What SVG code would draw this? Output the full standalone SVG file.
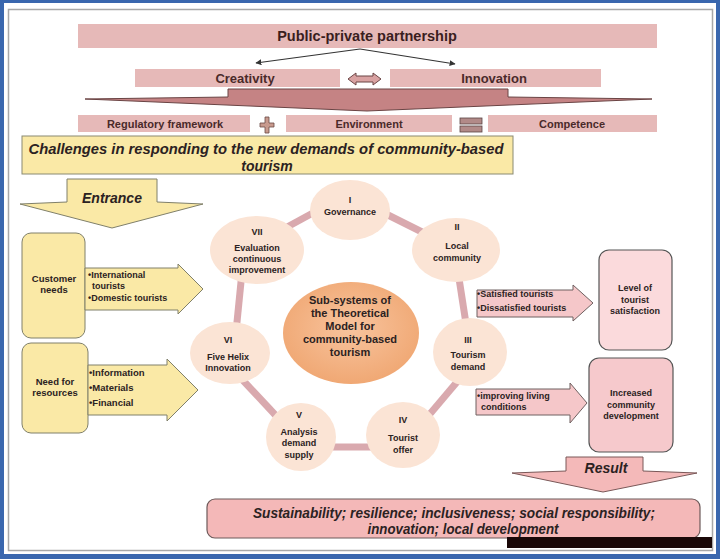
<svg xmlns="http://www.w3.org/2000/svg" width="720" height="559" viewBox="0 0 720 559">
<defs>
<style>
text{font-family:"Liberation Sans",Arial,sans-serif;font-weight:bold;fill:#2b2222;}
.t{text-anchor:middle;}
.pk{fill:#e6b9b8;}
.top{fill:#3a1e1e;}
.brn{fill:#4a2a2a;}
.s9{font-size:9px;}
.bi{font-style:italic;}
.sat{fill:#fbe4d5;}
.bar{stroke:#d9a9ae;stroke-width:7;stroke-linecap:butt;fill:none;}
.yl{fill:#fae9a6;stroke:#80806a;stroke-width:1;}
.pa{fill:#f5c7c9;stroke:#6e6060;stroke-width:1;}
</style>
<radialGradient id="cg" cx="50%" cy="45%" r="55%">
<stop offset="0" stop-color="#f8c49e"/>
<stop offset="1" stop-color="#f0a874"/>
</radialGradient>
<marker id="ah" viewBox="0 0 10 10" refX="9" refY="5" markerWidth="5" markerHeight="5" orient="auto">
<path d="M0,0 L10,5 L0,10 z" fill="#333"/>
</marker>
</defs>

<g id="frame">
<rect x="0" y="0" width="720" height="559" fill="#3a67ae"/>
<rect x="4" y="3" width="712" height="551" fill="#ffffff"/>
<rect x="8.5" y="9.5" width="704" height="541" fill="none" stroke="#a8a8a8" stroke-width="1.5"/>
</g>

<g id="connectors">
<line x1="360" y1="49" x2="256" y2="63" stroke="#333" stroke-width="1.2" marker-end="url(#ah)"/>
<line x1="360" y1="49" x2="455" y2="64" stroke="#333" stroke-width="1.2" marker-end="url(#ah)"/>
<line class="bar" x1="278" y1="232" x2="322" y2="208"/>
<line class="bar" x1="380" y1="211" x2="428" y2="235"/>
<line class="bar" x1="458" y1="272" x2="467" y2="330"/>
<line class="bar" x1="462" y1="376" x2="424" y2="421"/>
<line class="bar" x1="326" y1="447" x2="378" y2="447"/>
<line class="bar" x1="238" y1="375" x2="280" y2="420"/>
<line class="bar" x1="242" y1="272" x2="236" y2="332"/>
</g>

<g id="ppp">
<rect class="pk" x="78" y="24" width="579" height="24"/>
<text class="t top" x="367" y="41" font-size="14.5">Public-private partnership</text>
</g>
<g id="creativity">
<rect class="pk" x="135" y="69" width="205" height="18"/>
<text class="t brn" x="245" y="83" font-size="13">Creativity</text>
</g>
<g id="dblarrow">
<path d="M348,79 L356,73 L356,76 L373,76 L373,73 L381,79 L373,85 L373,82 L356,82 L356,85 Z" fill="#d9a2a2" stroke="#6b4545" stroke-width="1"/>
</g>
<g id="innovation">
<rect class="pk" x="390" y="69" width="211" height="18"/>
<text class="t brn" x="494" y="83" font-size="13">Innovation</text>
</g>
<g id="bigarrow">
<path d="M228,89 L508,89 L508,97 L652,99 L367,111 L85,99 L228,97 Z" fill="#c58384" stroke="#6a4444" stroke-width="1"/>
</g>
<g id="regulatory">
<rect class="pk" x="78" y="115" width="172" height="17"/>
<text class="t brn" x="165" y="128" font-size="11">Regulatory framework</text>
</g>
<g id="plus">
<path d="M265,117 L269,117 L269,123 L274,123 L274,127 L269,127 L269,133 L265,133 L265,127 L260,127 L260,123 L265,123 Z" fill="#c89a8e" stroke="#6a4a44" stroke-width="0.8"/>
</g>
<g id="environment">
<rect class="pk" x="286" y="115" width="166" height="17"/>
<text class="t brn" x="369" y="128" font-size="11">Environment</text>
</g>
<g id="equals">
<rect x="460" y="118" width="22" height="6" fill="#b28a88" stroke="#5a4444" stroke-width="0.8"/>
<rect x="460" y="126" width="22" height="6" fill="#b28a88" stroke="#5a4444" stroke-width="0.8"/>
</g>
<g id="competence">
<rect class="pk" x="488" y="115" width="169" height="17"/>
<text class="t brn" x="572" y="128" font-size="11">Competence</text>
</g>

<g id="challenges">
<rect x="22" y="136" width="491" height="38" fill="#fae9a6" stroke="#8a8a72" stroke-width="1"/>
<text class="t bi" x="266" y="154" font-size="14" textLength="475" lengthAdjust="spacingAndGlyphs">Challenges in responding to the new demands of  community-based</text>
<text class="t bi" x="267" y="171" font-size="14">tourism</text>
</g>

<g id="entrance">
<path d="M67,179 L157,179 L157,202 L203,204 L112,228 L20,204 L67,202 Z" class="yl"/>
<text class="t bi" x="112" y="203" font-size="14">Entrance</text>
</g>

<g id="customer">
<rect x="22" y="233" width="63" height="105" rx="9" class="yl"/>
<text class="t" x="54" y="282" font-size="9.5">Customer</text>
<text class="t" x="54" y="293" font-size="9.5">needs</text>
</g>
<g id="arrow-tourists">
<path d="M85,268 L178,268 L178,264 L203,289 L178,314 L178,310 L85,310 Z" class="yl"/>
<text class="s9" x="88" y="278">•International</text>
<text class="s9" x="92" y="289">tourists</text>
<text class="s9" x="88" y="301">•Domestic tourists</text>
</g>
<g id="resources">
<rect x="22" y="343" width="66" height="90" rx="9" class="yl"/>
<text class="t" x="55" y="385" font-size="9.5">Need for</text>
<text class="t" x="55" y="396" font-size="9.5">resources</text>
</g>
<g id="arrow-resources">
<path d="M88,365 L167,365 L167,359 L198,390 L167,421 L167,415 L88,415 Z" class="yl"/>
<text x="89" y="376" font-size="9.5">•Information</text>
<text x="89" y="391" font-size="9.5">•Materials</text>
<text x="89" y="406" font-size="9.5">•Financial</text>
</g>

<g id="center">
<ellipse cx="351" cy="333" rx="68" ry="51" fill="url(#cg)"/>
<text class="t" x="350" y="304" font-size="11">Sub-systems of</text>
<text class="t" x="350" y="317" font-size="11">the Theoretical</text>
<text class="t" x="350" y="330" font-size="11">Model for</text>
<text class="t" x="350" y="343" font-size="11">community-based</text>
<text class="t" x="350" y="356" font-size="11">tourism</text>
</g>
<g id="sat1">
<ellipse class="sat" cx="350" cy="210" rx="40" ry="30"/>
<text class="t s9" x="350" y="203">I</text>
<text class="t s9" x="350" y="215">Governance</text>
</g>
<g id="sat2">
<ellipse class="sat" cx="456" cy="250" rx="44" ry="32"/>
<text class="t s9" x="457" y="230">II</text>
<text class="t s9" x="457" y="249">Local</text>
<text class="t s9" x="457" y="261">community</text>
</g>
<g id="sat3">
<ellipse class="sat" cx="470" cy="352" rx="37" ry="34"/>
<text class="t s9" x="468" y="343">III</text>
<text class="t s9" x="468" y="358">Tourism</text>
<text class="t s9" x="468" y="370">demand</text>
</g>
<g id="sat4">
<ellipse class="sat" cx="403" cy="435" rx="37" ry="33"/>
<text class="t s9" x="403" y="423">IV</text>
<text class="t s9" x="403" y="441">Tourist</text>
<text class="t s9" x="403" y="453">offer</text>
</g>
<g id="sat5">
<ellipse class="sat" cx="301" cy="437" rx="35" ry="34"/>
<text class="t s9" x="299" y="418">V</text>
<text class="t s9" x="299" y="435">Analysis</text>
<text class="t s9" x="299" y="446">demand</text>
<text class="t s9" x="299" y="458">supply</text>
</g>
<g id="sat6">
<ellipse class="sat" cx="230" cy="353" rx="40" ry="31"/>
<text class="t s9" x="228" y="343">VI</text>
<text class="t s9" x="228" y="360">Five Helix</text>
<text class="t s9" x="228" y="371">Innovation</text>
</g>
<g id="sat7">
<ellipse class="sat" cx="257" cy="250" rx="47" ry="34"/>
<text class="t s9" x="257" y="235">VII</text>
<text class="t s9" x="257" y="251">Evaluation</text>
<text class="t s9" x="257" y="262">continuous</text>
<text class="t s9" x="257" y="273">improvement</text>
</g>

<g id="arrow-satisfaction">
<path d="M477,290 L573,290 L573,285 L593,303 L573,321 L573,317 L477,317 Z" class="pa"/>
<text class="s9" x="477" y="297">•Satisfied tourists</text>
<text class="s9" x="477" y="311">•Dissatisfied tourists</text>
</g>
<g id="satisfaction">
<rect x="599" y="250" width="73" height="100" rx="10" fill="#fbdadc" stroke="#555" stroke-width="1.2"/>
<text class="t s9" x="635" y="291">Level of</text>
<text class="t s9" x="635" y="303">tourist</text>
<text class="t s9" x="635" y="314">satisfaction</text>
</g>
<g id="arrow-living">
<path d="M476,389 L570,389 L570,383 L587,403 L570,423 L570,415 L476,415 Z" class="pa"/>
<text class="s9" x="477" y="399">•improving living</text>
<text class="s9" x="481" y="410">conditions</text>
</g>
<g id="community">
<rect x="589" y="358" width="84" height="94" rx="10" fill="#f6c9cc" stroke="#555" stroke-width="1.2"/>
<text class="t s9" x="631" y="396">Increased</text>
<text class="t s9" x="631" y="408">community</text>
<text class="t s9" x="631" y="419">development</text>
</g>

<g id="result">
<path d="M566,457 L643,457 L643,471 L697,473 L603,492 L512,473 L566,471 Z" fill="#f4b9b9" stroke="#7a5858" stroke-width="1"/>
<text class="t bi" x="606" y="473" font-size="14">Result</text>
</g>

<g id="outcome">
<rect x="207" y="499" width="493" height="39" rx="8" fill="#f4b8b8" stroke="#6d5a5a" stroke-width="1.2"/>
<text class="t bi" x="454" y="518" font-size="14" textLength="402" lengthAdjust="spacingAndGlyphs">Sustainability; resilience; inclusiveness; social responsibility;</text>
<text class="t bi" x="463" y="534" font-size="14" textLength="191" lengthAdjust="spacingAndGlyphs">innovation; local development</text>
</g>

<rect id="watermark" x="507" y="537" width="205" height="11" fill="#1a0808"/>
</svg>
